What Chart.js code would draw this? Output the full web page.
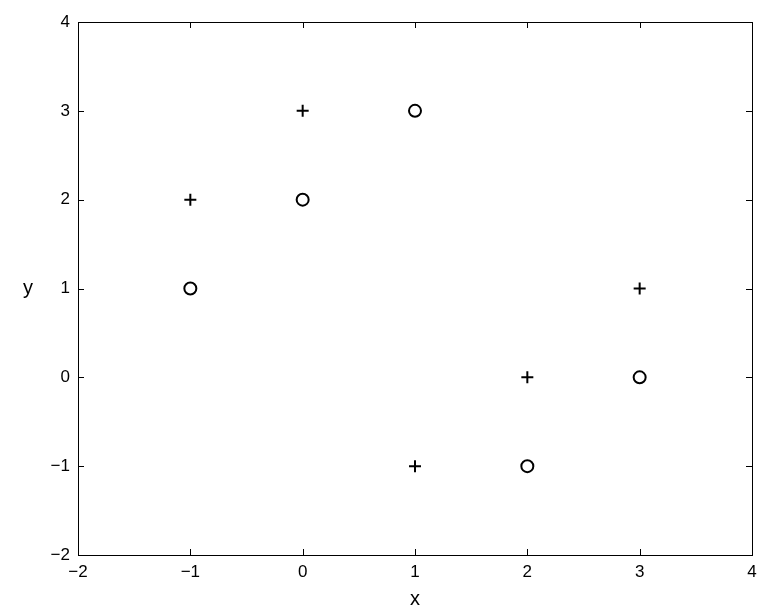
<!DOCTYPE html>
<html>
<head>
<meta charset="utf-8">
<script src="https://cdn.jsdelivr.net/npm/chart.js@4"></script>
<style>
  html, body { margin: 0; padding: 0; background: #fff; }
  #wrap { width: 768px; height: 608px; }
</style>
</head>
<body>
<div id="wrap"><canvas id="plot" width="768" height="608"></canvas></div>
<script>
// points
const plusX = [-1, 0, 1, 2, 3];
const plusY = [2, 3, -1, 0, 1];
const circleX = [-1, 0, 1, 2, 3];
const circleY = [1, 2, 3, -1, 0];
const xTicks = [-2, -1, 0, 1, 2, 3, 4];
const yTicks = [-2, -1, 0, 1, 2, 3, 4];

const toPoints = (xs, ys) => xs.map((x, i) => ({ x: x, y: ys[i] }));
const minus = v => String(v).replace('-', '\u2212');

// matlab style box with inward ticks + axis titles
const boxPlugin = {
    id: 'box',
    afterDraw(chart) {
        const ctx = chart.ctx;
        const a = chart.chartArea;
        const sx = chart.scales.x, sy = chart.scales.y;
        ctx.save();
        ctx.strokeStyle = '#000';
        ctx.lineWidth = 1;
        ctx.strokeRect(a.left + 0.5, a.top + 0.5, a.right - a.left, a.bottom - a.top);
        ctx.beginPath();
        sx.ticks.forEach(t => {
            const px = Math.round(sx.getPixelForValue(t.value)) + 0.5;
            ctx.moveTo(px, a.bottom); ctx.lineTo(px, a.bottom - 6);
            ctx.moveTo(px, a.top); ctx.lineTo(px, a.top + 6);
        });
        sy.ticks.forEach(t => {
            const py = Math.round(sy.getPixelForValue(t.value)) + 0.5;
            ctx.moveTo(a.left, py); ctx.lineTo(a.left + 6, py);
            ctx.moveTo(a.right, py); ctx.lineTo(a.right - 6, py);
        });
        ctx.stroke();
        ctx.fillStyle = '#000';
        ctx.font = '20px "Liberation Sans", Arial, sans-serif';
        ctx.textAlign = 'center';
        ctx.textBaseline = 'middle';
        ctx.fillText('x', (a.left + a.right) / 2, 599);
        ctx.fillText('y', 28, (a.top + a.bottom) / 2);
        ctx.restore();
    }
};

const tickFont = { family: '"Liberation Sans", Arial, sans-serif', size: 17 };

new Chart(document.getElementById('plot').getContext('2d'), {
    type: 'scatter',
    data: {
        datasets: [{
            data: toPoints(plusX, plusY),
            pointStyle: 'cross',
            pointRadius: 6,
            pointBorderWidth: 2,
            borderColor: '#000',
            backgroundColor: '#000'
        }, {
            data: toPoints(circleX, circleY),
            pointStyle: 'circle',
            pointRadius: 6,
            pointBorderWidth: 2,
            borderColor: '#000',
            backgroundColor: 'rgba(0,0,0,0)'
        }]
    },
    options: {
        responsive: false,
        animation: false,
        layout: { padding: { left: 0, right: 16, top: 22, bottom: 0 } },
        plugins: {
            legend: { display: false },
            tooltip: { enabled: false }
        },
        scales: {
            x: {
                type: 'linear',
                min: -2, max: 4,
                afterBuildTicks: s => { s.ticks = xTicks.map(v => ({ value: v })); },
                afterFit: s => { s.height = 53; },
                grid: { display: false, drawTicks: false },
                border: { display: false },
                ticks: { autoSkip: false, maxRotation: 0, padding: 7, color: '#000', font: tickFont, callback: minus }
            },
            y: {
                type: 'linear',
                min: -2, max: 4,
                afterBuildTicks: s => { s.ticks = yTicks.map(v => ({ value: v })); },
                afterFit: s => { s.width = 78; },
                grid: { display: false, drawTicks: false },
                border: { display: false },
                ticks: { autoSkip: false, padding: 8, color: '#000', font: tickFont, callback: minus }
            }
        }
    },
    plugins: [boxPlugin]
});
</script>
</body>
</html>
